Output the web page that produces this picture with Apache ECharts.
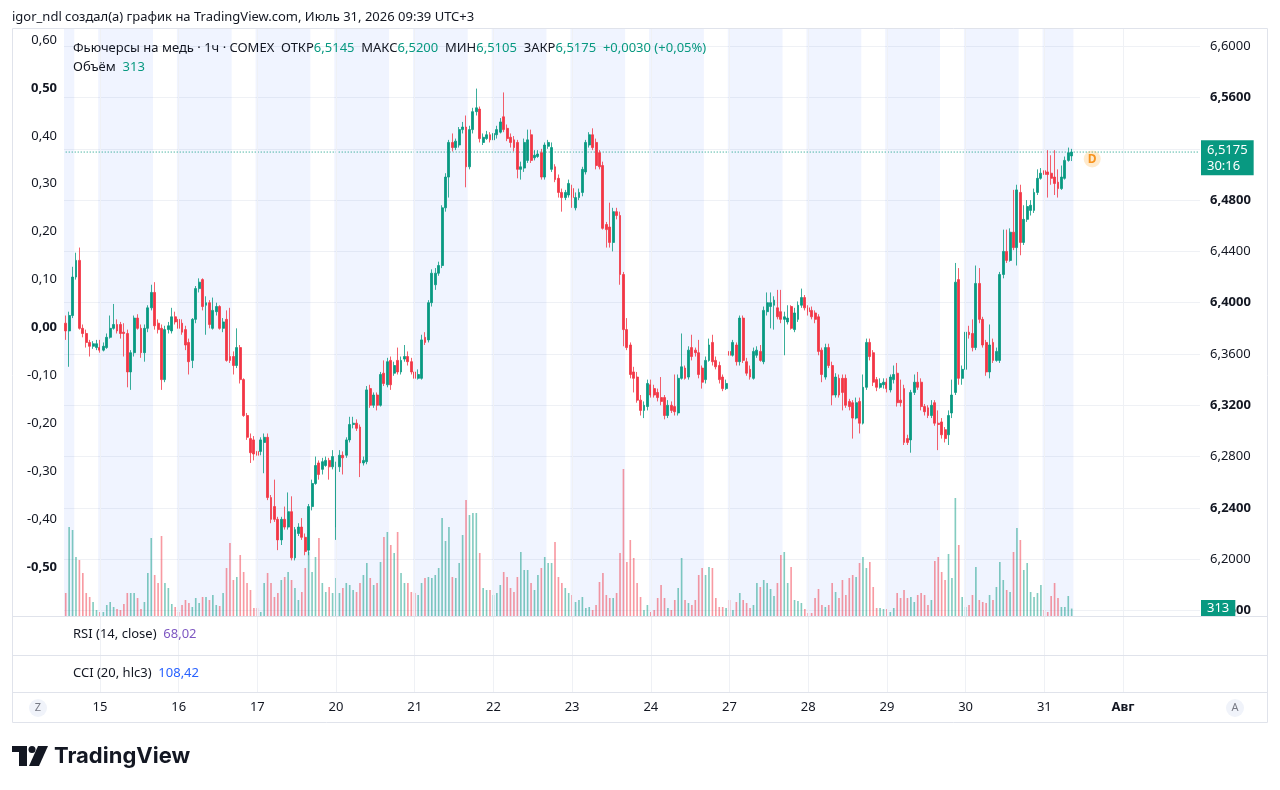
<!DOCTYPE html>
<html><head><meta charset="utf-8">
<script src="https://cdn.jsdelivr.net/npm/echarts@6/dist/echarts.min.js"></script>
<style>html,body{margin:0;padding:0;background:#fff;}#c{width:1280px;height:790px;}</style>
</head><body><div id="c"></div>
<script>
// ---- data: hourly copper futures (COMEX), UTC+3 ----
const opens = [
6.384,6.378,6.390,6.420,6.433,6.380,6.376,6.369,6.366,6.365,
6.365,6.363,6.365,6.373,6.380,6.383,6.383,6.377,6.376,6.346,
6.361,6.388,6.380,6.361,6.380,6.396,6.408,6.384,6.380,6.340,
6.379,6.378,6.389,6.387,6.384,6.379,6.369,6.355,6.387,6.411,
6.418,6.398,6.400,6.380,6.393,6.397,6.380,6.387,6.358,6.358,
6.351,6.365,6.340,6.312,6.294,6.293,6.284,6.284,6.291,6.295,
6.248,6.241,6.231,6.215,6.231,6.225,6.237,6.201,6.220,6.225,
6.217,6.207,6.241,6.259,6.275,6.270,6.273,6.277,6.272,6.225,
6.272,6.281,6.281,6.293,6.305,6.306,6.303,6.275,6.276,6.333,
6.320,6.328,6.320,6.345,6.336,6.355,6.345,6.355,6.346,6.356,
6.358,6.354,6.346,6.341,6.341,6.373,6.371,6.400,6.414,6.423,
6.429,6.474,6.498,6.525,6.521,6.523,6.535,6.537,6.506,6.535,
6.549,6.551,6.525,6.528,6.531,6.527,6.531,6.533,6.545,6.536,
6.529,6.527,6.525,6.504,6.505,6.511,6.531,6.513,6.514,6.517,
6.498,6.522,6.504,6.506,6.497,6.486,6.482,6.484,6.489,6.474,
6.482,6.486,6.502,6.523,6.531,6.525,6.517,6.507,6.461,6.459,
6.447,6.471,6.468,6.422,6.379,6.367,6.346,6.342,6.324,6.316,
6.319,6.336,6.333,6.330,6.326,6.326,6.312,6.320,6.319,6.314,
6.341,6.349,6.342,6.365,6.363,6.361,6.349,6.340,6.355,6.369,
6.355,6.351,6.342,6.333,6.362,6.359,6.367,6.354,6.388,6.354,
6.348,6.341,6.359,6.362,6.354,6.393,6.397,6.398,6.396,6.393,
6.387,6.385,6.397,6.379,6.387,6.398,6.404,6.396,6.394,6.392,
6.389,6.363,6.342,6.365,6.351,6.328,6.341,6.341,6.341,6.323,
6.322,6.310,6.323,6.306,6.334,6.369,6.361,6.340,6.334,6.336,
6.338,6.332,6.340,6.345,6.324,6.333,6.294,6.293,6.330,6.338,
6.338,6.319,6.318,6.312,6.322,6.306,6.307,6.301,6.297,6.314,
6.330,6.418,6.341,6.348,6.377,6.376,6.365,6.415,6.387,6.369,
6.346,6.369,6.355,6.355,6.422,6.440,6.433,6.455,6.443,6.486,
6.447,6.465,6.472,6.472,6.486,6.497,6.503,6.502,6.501,6.498,
6.494,6.489,6.497,6.511,6.5145];
const closes = [
6.378,6.390,6.420,6.433,6.380,6.376,6.369,6.366,6.368,6.368,
6.363,6.366,6.373,6.380,6.383,6.378,6.376,6.376,6.346,6.361,
6.388,6.380,6.361,6.380,6.396,6.408,6.382,6.379,6.340,6.379,
6.382,6.389,6.385,6.380,6.377,6.367,6.354,6.387,6.411,6.416,
6.397,6.400,6.383,6.394,6.397,6.380,6.385,6.355,6.355,6.351,
6.365,6.340,6.312,6.295,6.283,6.282,6.281,6.293,6.295,6.248,
6.231,6.231,6.215,6.231,6.225,6.237,6.201,6.223,6.225,6.217,
6.206,6.241,6.259,6.273,6.266,6.276,6.277,6.272,6.280,6.272,
6.281,6.279,6.293,6.305,6.306,6.302,6.275,6.277,6.332,6.320,
6.328,6.320,6.344,6.337,6.354,6.336,6.351,6.346,6.355,6.358,
6.354,6.346,6.341,6.344,6.371,6.369,6.400,6.423,6.423,6.429,
6.474,6.498,6.525,6.521,6.526,6.535,6.537,6.506,6.535,6.549,
6.552,6.528,6.529,6.531,6.527,6.532,6.535,6.541,6.535,6.528,
6.525,6.521,6.504,6.506,6.525,6.527,6.511,6.515,6.516,6.498,
6.523,6.525,6.521,6.496,6.486,6.482,6.486,6.493,6.482,6.482,
6.486,6.504,6.525,6.531,6.521,6.507,6.506,6.458,6.457,6.447,
6.471,6.468,6.422,6.379,6.365,6.344,6.341,6.324,6.316,6.320,
6.337,6.328,6.328,6.326,6.323,6.312,6.320,6.316,6.315,6.341,
6.350,6.341,6.363,6.358,6.361,6.344,6.338,6.355,6.367,6.354,
6.350,6.340,6.333,6.337,6.359,6.369,6.354,6.388,6.355,6.345,
6.342,6.362,6.363,6.355,6.394,6.400,6.400,6.402,6.389,6.387,
6.389,6.388,6.380,6.392,6.398,6.404,6.396,6.393,6.389,6.387,
6.362,6.344,6.365,6.351,6.328,6.342,6.328,6.330,6.320,6.319,
6.310,6.322,6.306,6.334,6.369,6.358,6.338,6.334,6.337,6.338,
6.333,6.342,6.344,6.322,6.322,6.291,6.291,6.330,6.338,6.334,
6.319,6.315,6.312,6.320,6.306,6.305,6.297,6.294,6.312,6.328,
6.416,6.341,6.348,6.377,6.375,6.365,6.415,6.387,6.367,6.346,
6.367,6.355,6.362,6.422,6.440,6.433,6.455,6.443,6.488,6.447,
6.465,6.475,6.476,6.486,6.497,6.501,6.500,6.500,6.497,6.493,
6.489,6.498,6.511,6.517,6.5175];
const highs = [
6.390,6.393,6.428,6.439,6.443,6.383,6.379,6.371,6.370,6.371,
6.371,6.369,6.376,6.390,6.399,6.387,6.385,6.384,6.379,6.363,
6.390,6.391,6.383,6.383,6.398,6.414,6.416,6.387,6.383,6.382,
6.385,6.396,6.393,6.390,6.387,6.382,6.372,6.388,6.413,6.419,
6.419,6.405,6.402,6.404,6.400,6.398,6.388,6.394,6.396,6.362,
6.380,6.367,6.341,6.314,6.298,6.296,6.287,6.295,6.298,6.298,
6.250,6.262,6.233,6.233,6.241,6.252,6.249,6.225,6.228,6.232,
6.220,6.243,6.262,6.280,6.277,6.279,6.280,6.279,6.285,6.276,
6.285,6.284,6.295,6.311,6.311,6.309,6.305,6.280,6.335,6.336,
6.330,6.330,6.346,6.355,6.357,6.358,6.354,6.365,6.358,6.367,
6.362,6.357,6.349,6.348,6.375,6.377,6.402,6.426,6.427,6.432,
6.476,6.501,6.527,6.532,6.528,6.537,6.541,6.546,6.538,6.552,
6.567,6.553,6.532,6.534,6.533,6.537,6.538,6.544,6.564,6.539,
6.532,6.530,6.527,6.510,6.528,6.535,6.535,6.519,6.519,6.520,
6.525,6.527,6.525,6.508,6.500,6.489,6.488,6.496,6.492,6.486,
6.489,6.506,6.527,6.533,6.536,6.528,6.519,6.510,6.463,6.478,
6.474,6.474,6.471,6.424,6.388,6.369,6.350,6.346,6.328,6.323,
6.340,6.340,6.336,6.333,6.342,6.328,6.324,6.323,6.344,6.344,
6.376,6.351,6.366,6.375,6.365,6.371,6.351,6.358,6.372,6.375,
6.358,6.354,6.344,6.340,6.394,6.371,6.369,6.390,6.390,6.357,
6.351,6.365,6.366,6.367,6.397,6.408,6.408,6.405,6.410,6.410,
6.393,6.398,6.398,6.396,6.401,6.411,6.406,6.398,6.397,6.394,
6.391,6.365,6.368,6.368,6.354,6.345,6.344,6.344,6.344,6.325,
6.324,6.326,6.326,6.344,6.372,6.372,6.363,6.342,6.341,6.341,
6.341,6.344,6.351,6.353,6.340,6.336,6.297,6.332,6.344,6.346,
6.341,6.321,6.320,6.324,6.324,6.316,6.310,6.303,6.316,6.340,
6.431,6.427,6.351,6.380,6.382,6.387,6.429,6.427,6.389,6.371,
6.383,6.372,6.365,6.424,6.457,6.457,6.458,6.488,6.492,6.492,
6.476,6.480,6.480,6.489,6.504,6.505,6.507,6.519,6.515,6.519,
6.504,6.507,6.514,6.521,6.520];
const lows = [
6.371,6.350,6.388,6.418,6.379,6.373,6.365,6.358,6.364,6.363,
6.361,6.362,6.364,6.372,6.379,6.376,6.372,6.358,6.334,6.332,
6.358,6.379,6.357,6.354,6.377,6.394,6.379,6.376,6.332,6.338,
6.376,6.376,6.383,6.377,6.375,6.363,6.344,6.349,6.384,6.408,
6.394,6.375,6.380,6.379,6.390,6.379,6.377,6.354,6.353,6.344,
6.349,6.337,6.311,6.293,6.275,6.277,6.279,6.281,6.267,6.246,
6.228,6.229,6.207,6.211,6.223,6.223,6.199,6.199,6.218,6.215,
6.203,6.203,6.238,6.258,6.262,6.266,6.272,6.262,6.270,6.215,
6.268,6.266,6.279,6.291,6.302,6.300,6.264,6.273,6.274,6.318,
6.318,6.316,6.319,6.335,6.334,6.332,6.343,6.344,6.344,6.354,
6.351,6.344,6.336,6.340,6.340,6.367,6.369,6.397,6.410,6.421,
6.427,6.471,6.482,6.518,6.519,6.521,6.532,6.490,6.504,6.532,
6.546,6.525,6.523,6.527,6.525,6.525,6.528,6.532,6.533,6.526,
6.521,6.518,6.497,6.496,6.502,6.509,6.509,6.511,6.513,6.496,
6.496,6.520,6.502,6.494,6.482,6.471,6.480,6.482,6.474,6.472,
6.480,6.483,6.500,6.521,6.519,6.504,6.504,6.457,6.443,6.443,
6.440,6.465,6.414,6.366,6.363,6.341,6.330,6.322,6.312,6.310,
6.316,6.326,6.326,6.323,6.320,6.309,6.310,6.314,6.312,6.312,
6.340,6.340,6.340,6.355,6.358,6.341,6.333,6.337,6.354,6.351,
6.348,6.337,6.331,6.332,6.357,6.358,6.351,6.351,6.353,6.343,
6.340,6.340,6.357,6.354,6.352,6.390,6.380,6.379,6.387,6.384,
6.359,6.383,6.379,6.377,6.385,6.396,6.394,6.390,6.387,6.384,
6.359,6.338,6.340,6.349,6.320,6.326,6.326,6.316,6.318,6.316,
6.294,6.309,6.298,6.305,6.332,6.355,6.335,6.331,6.333,6.333,
6.330,6.330,6.337,6.319,6.319,6.289,6.289,6.283,6.328,6.332,
6.316,6.312,6.310,6.310,6.304,6.285,6.294,6.291,6.289,6.310,
6.328,6.336,6.336,6.345,6.372,6.362,6.363,6.384,6.365,6.343,
6.341,6.353,6.354,6.353,6.419,6.431,6.432,6.441,6.429,6.437,
6.445,6.463,6.468,6.470,6.484,6.496,6.498,6.482,6.492,6.484,
6.482,6.488,6.496,6.510,6.5105];
const volumes = [
966,3738,3612,2478,2352,1806,966,798,588,252,
168,168,462,588,378,294,252,504,966,966,
966,756,294,588,1806,3276,1722,1386,3360,1386,
1176,504,378,168,462,672,546,378,756,546,
798,798,672,882,462,420,966,2016,3066,1512,
1638,2562,1848,1386,1092,336,336,168,1386,1806,
1386,798,966,1512,1638,1848,1512,1176,672,1008,
2016,2688,1848,2478,3276,1386,1008,1218,966,1596,
966,1176,1386,1302,1092,1008,1386,1722,2226,1596,
1302,1386,2268,3318,3528,2982,2646,3528,1806,1386,
1386,1008,966,882,1386,1596,1638,1596,1722,2016,
4116,3150,3738,1638,1596,2226,3402,4872,4242,4326,
4326,2646,1176,1092,1092,882,966,1302,1848,1638,
1176,1008,1638,2688,1932,1932,1386,1092,1722,2016,
2478,2226,2226,3108,1638,1386,1176,966,882,588,
672,798,336,378,252,462,1428,1806,882,756,
756,966,2646,6174,2268,3192,2436,1386,798,252,
462,168,252,756,1302,756,336,252,672,1176,
2436,672,546,462,672,1722,2016,1722,2058,2016,
756,378,378,336,672,252,588,966,672,546,
336,462,1386,1218,1512,1386,1134,840,1386,2562,
2688,1386,2058,672,630,546,294,126,126,756,
1134,462,378,462,1386,1008,756,1512,882,1596,
1722,1638,2226,2478,2016,2268,1218,336,336,294,
294,168,336,966,756,1092,756,798,588,882,
966,882,462,672,2310,2478,1848,1512,2604,1596,
4956,2982,798,378,462,882,2058,672,588,546,
882,672,1218,2268,1512,1092,1008,2688,3696,3192,
1932,2226,1008,798,966,1302,252,168,840,1386,
756,378,378,840,313];

// time scale: trading days (July 14 .. August 1), hourly bars 01:00-23:00
const dayKeys = ['14','15','16','17','20','21','22','23','24','27','28','29','30','31','01'];
const firstHour = 14;
const sessionEndHour = 16;
const tickLabels = ['15','16','17','20','21','22','23','24','27','28','29','30','31','Авг'];
const barTimer = '30:16';
const eventMark = {index: 300, price: 6.512, text: 'D'};

// ---- build categories ----
const categories = [];
const dayStart = [];
dayKeys.forEach((d, k) => {
  const h0 = k === 0 ? firstHour : 1;
  if (k > 0) dayStart.push(categories.length);
  for (let h = h0; h <= 23; h++) categories.push(d + ' ' + String(h).padStart(2, '0') + ':00');
});
const N = categories.length;
const labelAt = {};
dayStart.forEach((idx, k) => { labelAt[idx] = tickLabels[k]; });

const bands = [];
let s = -1;
for (let i = 0; i < opens.length; i++) {
  const h = parseInt(categories[i].slice(3, 5), 10);
  const blue = h <= sessionEndHour;
  if (blue && s < 0) s = i;
  if (s >= 0 && (!blue || i === opens.length - 1)) { bands.push([s, blue ? i + 1 : i]); s = -1; }
}

const UP = '#089981', DOWN = '#F23645';
const VUP = 'rgba(8,153,129,0.5)', VDOWN = 'rgba(242,54,69,0.5)';
const TXT = '#131722';
const FONT = '"Noto Sans", "Liberation Sans", sans-serif';
const GRID_LINE = '#eff1f5';

const candleData = opens.map((o, i) => [o, closes[i], lows[i], highs[i]]);
const volData = volumes.map((v, i) => ({value: v, itemStyle: {color: closes[i] >= opens[i] ? VUP : VDOWN}}));
const last = opens.length - 1;
const lastClose = closes[last];
const fmt4 = v => v.toFixed(4).replace('.', ',');

const L = 64, R = 80;
const vLines = dayStart.map(i => ({xAxis: i + 0.5}));

const chart = echarts.init(document.getElementById('c'));
chart.setOption({
  animation: false,
  textStyle: {fontFamily: FONT},
  grid: [
    {left: L, right: R, top: 28, height: 588},
    {left: L, right: R, top: 20.64, height: 589.76},
    {left: L, right: R, top: 456, height: 160},
    {left: L, right: R, top: 40, height: 575},
    {left: L, right: R, top: 616, height: 76}
  ],
  xAxis: [
    {gridIndex: 0, type: 'value', min: 0, max: N, show: false},
    {gridIndex: 1, type: 'category', data: categories, show: false},
    {gridIndex: 2, type: 'category', data: categories, show: false},
    {gridIndex: 3, type: 'value', min: 0, max: 1, show: false},
    {gridIndex: 4, type: 'category', data: categories, position: 'bottom',
      axisLine: {show: false}, axisTick: {show: false}, splitLine: {show: false},
      axisLabel: {
        interval: (idx) => labelAt[idx] !== undefined,
        formatter: (val, idx) => labelAt[idx] === 'Авг' ? '{b|Авг}' : (labelAt[idx] || ''),
        color: TXT, fontSize: 13, margin: 9, fontFamily: FONT,
        rich: {b: {fontWeight: 'bold', fontSize: 13, color: TXT, fontFamily: FONT}}
      }},
    {gridIndex: 4, type: 'value', min: 0, max: N, show: false, position: 'top'}
  ],
  yAxis: [
    {gridIndex: 0, type: 'value', min: 0, max: 1, show: false},
    {gridIndex: 1, type: 'value', position: 'right', min: 6.16, max: 6.62, interval: 0.04,
      axisLine: {show: false}, axisTick: {show: false},
      splitLine: {show: true, showMaxLine: false, lineStyle: {color: GRID_LINE, width: 1}},
      axisLabel: {
        margin: 10, showMaxLabel: false,
        formatter: (v) => {
          const k = Math.round((v - 6.16) / 0.04);
          const t = fmt4(v);
          return k % 2 === 0 ? '{b|' + t + '}' : '{n|' + t + '}';
        },
        rich: {
          b: {fontWeight: 'bold', fontSize: 13, color: TXT, fontFamily: FONT},
          n: {fontSize: 13, color: TXT, fontFamily: FONT}
        }
      }},
    {gridIndex: 2, type: 'value', min: 0, max: 6720, show: false},
    {gridIndex: 3, type: 'value', position: 'left', min: -0.6, max: 0.6, interval: 0.1,
      axisLine: {show: false}, axisTick: {show: false}, splitLine: {show: false},
      axisLabel: {
        margin: 7, showMinLabel: false,
        formatter: (v) => {
          if (Math.abs(v) < 1e-9) v = 0;
          const t = v.toFixed(2).replace('.', ',');
          const bold = Math.abs(v) < 1e-9 || Math.abs(Math.abs(v) - 0.5) < 1e-9;
          return bold ? '{b|' + t + '}' : '{n|' + t + '}';
        },
        rich: {
          b: {fontWeight: 'bold', fontSize: 13, color: TXT, fontFamily: FONT},
          n: {fontSize: 13, color: TXT, fontFamily: FONT}
        }
      }},
    {gridIndex: 4, type: 'value', min: 0, max: 1, show: false}
  ],
  series: [
    {
      type: 'line', xAxisIndex: 0, yAxisIndex: 0, data: [[0, 0]], symbol: 'none',
      lineStyle: {opacity: 0}, silent: true, z: -1,
      markArea: {silent: true, itemStyle: {color: 'rgba(41,98,255,0.07)'},
        data: bands.map(b => [{xAxis: b[0]}, {xAxis: b[1]}])},
      markLine: {silent: true, symbol: ['none', 'none'], label: {show: false},
        lineStyle: {color: GRID_LINE, type: 'solid', width: 1}, data: vLines}
    },
    {
      type: 'bar', xAxisIndex: 2, yAxisIndex: 2, data: volData, barWidth: '48%', z: 2,
      silent: true,
      markLine: {silent: true, symbol: ['none', 'none'],
        lineStyle: {color: 'rgba(0,0,0,0)', width: 0, type: 'solid'},
        label: {show: true, position: 'end', distance: 1, formatter: String(volumes[last]),
          backgroundColor: UP, color: '#fff', fontSize: 13, padding: [2, 6, 2, 6], fontFamily: FONT},
        data: [{yAxis: volumes[last]}]}
    },
    {
      // last-price reference line
      type: 'line', xAxisIndex: 1, yAxisIndex: 1, silent: true, z: 2, symbol: 'none',
      data: [[categories[0], lastClose], [categories[N - 1], lastClose]],
      lineStyle: {color: UP, type: [1, 2], width: 1}
    },
    {
      type: 'candlestick', xAxisIndex: 1, yAxisIndex: 1, data: candleData, barWidth: 2.4, z: 3,
      silent: true,
      itemStyle: {color: UP, color0: DOWN, borderColor: UP, borderColor0: DOWN, borderWidth: 0.8},
      markLine: {silent: true, symbol: ['none', 'none'],
        lineStyle: {color: 'rgba(0,0,0,0)', width: 0, type: 'solid'},
        label: {show: true, position: 'end', distance: 1, offset: [0, 9],
          formatter: fmt4(lastClose) + '\n' + barTimer,
          backgroundColor: UP, color: '#fff', fontSize: 13, lineHeight: 16,
          padding: [2, 6, 1, 6], fontFamily: FONT},
        data: [{yAxis: lastClose}]},
      markPoint: {silent: true, symbol: 'circle', symbolSize: 17,
        itemStyle: {color: 'rgba(255,152,0,0.2)'},
        label: {show: true, formatter: eventMark.text, color: '#f7931e', fontSize: 12, fontWeight: 'bold', fontFamily: FONT},
        data: [{coord: [categories[eventMark.index], eventMark.price]}]}
    },
    {
      type: 'line', xAxisIndex: 5, yAxisIndex: 4, data: [[0, 0]], symbol: 'none',
      lineStyle: {opacity: 0}, silent: true, z: -1,
      markLine: {silent: true, symbol: ['none', 'none'], label: {show: false},
        lineStyle: {color: GRID_LINE, type: 'solid', width: 1}, data: vLines}
    }
  ],
  graphic: [
    {type: 'rect', shape: {x: 12.5, y: 28.5, width: 1255, height: 694}, style: {fill: 'none', stroke: '#e0e3eb', lineWidth: 1}, z: 100},
    {type: 'line', shape: {x1: 12, y1: 616.5, x2: 1268, y2: 616.5}, style: {stroke: '#e0e3eb', lineWidth: 1}, z: 100},
    {type: 'line', shape: {x1: 12, y1: 655.5, x2: 1268, y2: 655.5}, style: {stroke: '#e0e3eb', lineWidth: 1}, z: 100},
    {type: 'line', shape: {x1: 12, y1: 692.5, x2: 1268, y2: 692.5}, style: {stroke: '#e0e3eb', lineWidth: 1}, z: 100},
    {type: 'text', x: 12, y: 17, z: 100, style: {text: 'igor_ndl создал(а) график на TradingView.com, Июль 31, 2026 09:39 UTC+3',
      font: '13px ' + FONT, fill: TXT, verticalAlign: 'middle', align: 'left'}},
    {type: 'text', x: 73, y: 48, z: 100, style: {
      text: '{d|Фьючерсы на медь · 1ч · COMEX  ОТКР}{g|' + fmt4(opens[last]) + '}{d|  МАКС}{g|' + fmt4(highs[last]) +
        '}{d|  МИН}{g|' + fmt4(lows[last]) + '}{d|  ЗАКР}{g|' + fmt4(lastClose) + '}{g|  +0,0030 (+0,05%)}',
      verticalAlign: 'middle', align: 'left',
      rich: {d: {fill: TXT, fontSize: 13, fontFamily: FONT}, g: {fill: UP, fontSize: 13, fontFamily: FONT}}}},
    {type: 'text', x: 73, y: 67, z: 100, style: {
      text: '{d|Объём  }{g|' + volumes[last] + '}', verticalAlign: 'middle', align: 'left',
      rich: {d: {fill: TXT, fontSize: 13, fontFamily: FONT}, g: {fill: UP, fontSize: 13, fontFamily: FONT}}}},
    {type: 'text', x: 73, y: 634, z: 100, style: {
      text: '{d|RSI (14, close)  }{p|68,02}', verticalAlign: 'middle', align: 'left',
      rich: {d: {fill: TXT, fontSize: 13, fontFamily: FONT}, p: {fill: '#7e57c2', fontSize: 13, fontFamily: FONT}}}},
    {type: 'text', x: 73, y: 673, z: 100, style: {
      text: '{d|CCI (20, hlc3)  }{p|108,42}', verticalAlign: 'middle', align: 'left',
      rich: {d: {fill: TXT, fontSize: 13, fontFamily: FONT}, p: {fill: '#2962ff', fontSize: 13, fontFamily: FONT}}}},
    {type: 'circle', shape: {cx: 38, cy: 708, r: 9}, style: {fill: '#f0f3fa'}, z: 100},
    {type: 'text', x: 38, y: 708, z: 101, style: {text: 'Z', font: '11px ' + FONT, fill: '#787b86', align: 'center', verticalAlign: 'middle'}},
    {type: 'circle', shape: {cx: 1235, cy: 708, r: 9}, style: {fill: '#f0f3fa'}, z: 100},
    {type: 'text', x: 1235, y: 708, z: 101, style: {text: 'A', font: '11px ' + FONT, fill: '#787b86', align: 'center', verticalAlign: 'middle'}},
    {type: 'rect', shape: {x: 12, y: 746, width: 15, height: 6}, style: {fill: TXT}, z: 100},
    {type: 'rect', shape: {x: 19, y: 746, width: 8, height: 20}, style: {fill: TXT}, z: 100},
    {type: 'circle', shape: {cx: 32, cy: 749.5, r: 3.5}, style: {fill: TXT}, z: 100},
    {type: 'polygon', shape: {points: [[38, 746], [48, 746], [39, 766], [29, 766]]}, style: {fill: TXT}, z: 100},
    {type: 'text', x: 54, y: 756, z: 100, style: {text: 'TradingView', font: 'bold 22px Inter, Roboto, sans-serif', fill: TXT, verticalAlign: 'middle', align: 'left'}}
  ]
});
</script>
</body></html>
